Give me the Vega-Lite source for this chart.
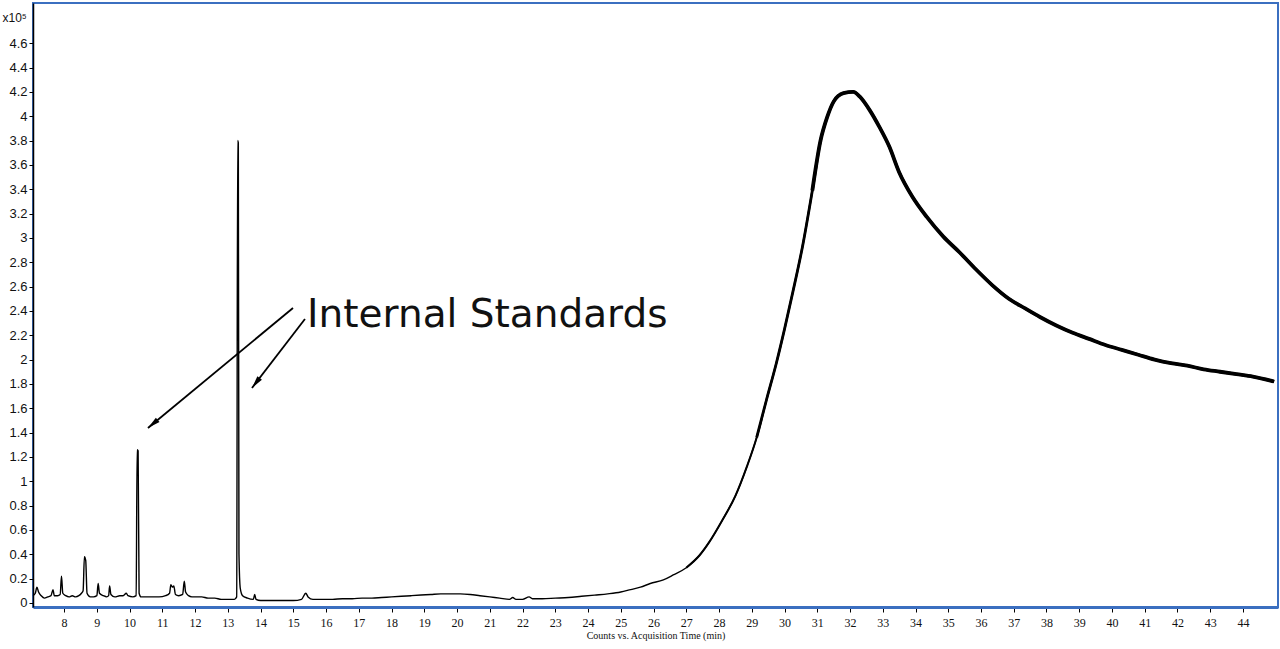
{
  "$schema": "https://vega.github.io/schema/vega-lite/v6.json",
  "width": 1245,
  "height": 604,
  "autosize": {"type": "none"},
  "padding": {"left": 33, "top": 3, "right": 2, "bottom": 42},
  "background": "white",
  "config": {
    "view": {"stroke": "#3b6fc0", "strokeWidth": 2},
    "font": "Liberation Sans",
    "axis": {"labelOverlap": false, "grid": false},
    "axisX": {"labelOverlap": false},
    "axisY": {"labelOverlap": false}
  },
  "datasets": {
    "tic": [
      {"t": 7.05, "v": 0.06}, {"t": 7.12, "v": 0.08}, {"t": 7.17, "v": 0.13}, {"t": 7.22, "v": 0.09},
      {"t": 7.3, "v": 0.06}, {"t": 7.4, "v": 0.04}, {"t": 7.5, "v": 0.05}, {"t": 7.6, "v": 0.06},
      {"t": 7.66, "v": 0.11}, {"t": 7.7, "v": 0.06}, {"t": 7.8, "v": 0.06}, {"t": 7.88, "v": 0.07},
      {"t": 7.92, "v": 0.22}, {"t": 7.96, "v": 0.08}, {"t": 8.05, "v": 0.06}, {"t": 8.15, "v": 0.05},
      {"t": 8.25, "v": 0.06}, {"t": 8.35, "v": 0.05}, {"t": 8.45, "v": 0.06}, {"t": 8.53, "v": 0.08},
      {"t": 8.58, "v": 0.1}, {"t": 8.62, "v": 0.38}, {"t": 8.66, "v": 0.35}, {"t": 8.7, "v": 0.08},
      {"t": 8.8, "v": 0.05}, {"t": 8.9, "v": 0.05}, {"t": 9.0, "v": 0.06}, {"t": 9.04, "v": 0.16},
      {"t": 9.08, "v": 0.08}, {"t": 9.2, "v": 0.06}, {"t": 9.3, "v": 0.05}, {"t": 9.36, "v": 0.06},
      {"t": 9.39, "v": 0.14}, {"t": 9.43, "v": 0.07}, {"t": 9.55, "v": 0.05}, {"t": 9.7, "v": 0.06},
      {"t": 9.8, "v": 0.06}, {"t": 9.9, "v": 0.08}, {"t": 9.95, "v": 0.06}, {"t": 10.1, "v": 0.05},
      {"t": 10.2, "v": 0.06}, {"t": 10.23, "v": 1.26}, {"t": 10.26, "v": 1.25}, {"t": 10.29, "v": 0.08},
      {"t": 10.35, "v": 0.05}, {"t": 10.5, "v": 0.05}, {"t": 10.7, "v": 0.05}, {"t": 10.9, "v": 0.05},
      {"t": 11.1, "v": 0.06}, {"t": 11.22, "v": 0.08}, {"t": 11.26, "v": 0.15}, {"t": 11.31, "v": 0.13},
      {"t": 11.35, "v": 0.14}, {"t": 11.4, "v": 0.07}, {"t": 11.5, "v": 0.06}, {"t": 11.62, "v": 0.07},
      {"t": 11.67, "v": 0.18}, {"t": 11.71, "v": 0.09}, {"t": 11.8, "v": 0.06}, {"t": 11.9, "v": 0.05},
      {"t": 12.0, "v": 0.05}, {"t": 12.2, "v": 0.05}, {"t": 12.4, "v": 0.04}, {"t": 12.6, "v": 0.04},
      {"t": 12.8, "v": 0.03}, {"t": 13.0, "v": 0.03}, {"t": 13.2, "v": 0.03}, {"t": 13.27, "v": 0.05},
      {"t": 13.3, "v": 3.8}, {"t": 13.32, "v": 3.78}, {"t": 13.34, "v": 0.4}, {"t": 13.38, "v": 0.12},
      {"t": 13.45, "v": 0.06}, {"t": 13.6, "v": 0.04}, {"t": 13.78, "v": 0.03}, {"t": 13.82, "v": 0.07},
      {"t": 13.86, "v": 0.03}, {"t": 14.0, "v": 0.02}, {"t": 14.3, "v": 0.02}, {"t": 14.6, "v": 0.02},
      {"t": 15.0, "v": 0.02}, {"t": 15.25, "v": 0.03}, {"t": 15.38, "v": 0.08}, {"t": 15.45, "v": 0.05},
      {"t": 15.6, "v": 0.03}, {"t": 15.9, "v": 0.03}, {"t": 16.2, "v": 0.03}, {"t": 16.5, "v": 0.035},
      {"t": 16.8, "v": 0.035}, {"t": 17.1, "v": 0.04}, {"t": 17.4, "v": 0.04}, {"t": 17.7, "v": 0.045},
      {"t": 18.0, "v": 0.05}, {"t": 18.3, "v": 0.055}, {"t": 18.6, "v": 0.06}, {"t": 18.9, "v": 0.065},
      {"t": 19.2, "v": 0.07}, {"t": 19.5, "v": 0.075}, {"t": 19.8, "v": 0.075}, {"t": 20.1, "v": 0.075},
      {"t": 20.4, "v": 0.07}, {"t": 20.7, "v": 0.06}, {"t": 21.0, "v": 0.05}, {"t": 21.3, "v": 0.04},
      {"t": 21.6, "v": 0.03}, {"t": 21.7, "v": 0.045}, {"t": 21.8, "v": 0.03}, {"t": 22.0, "v": 0.03},
      {"t": 22.2, "v": 0.05}, {"t": 22.3, "v": 0.035}, {"t": 22.6, "v": 0.035}, {"t": 23.0, "v": 0.04},
      {"t": 23.4, "v": 0.045}, {"t": 23.8, "v": 0.055}, {"t": 24.2, "v": 0.065}, {"t": 24.6, "v": 0.075},
      {"t": 25.0, "v": 0.09}, {"t": 25.3, "v": 0.11}, {"t": 25.6, "v": 0.13}, {"t": 25.9, "v": 0.16},
      {"t": 26.3, "v": 0.19}, {"t": 26.6, "v": 0.23}, {"t": 27.0, "v": 0.29}, {"t": 27.4, "v": 0.39},
      {"t": 27.7, "v": 0.5}, {"t": 28.1, "v": 0.68}, {"t": 28.5, "v": 0.88}, {"t": 28.85, "v": 1.12},
      {"t": 29.15, "v": 1.36}, {"t": 29.45, "v": 1.67}, {"t": 29.75, "v": 1.97}, {"t": 30.0, "v": 2.25},
      {"t": 30.25, "v": 2.55}, {"t": 30.55, "v": 2.93}, {"t": 30.85, "v": 3.39}, {"t": 31.1, "v": 3.8},
      {"t": 31.3, "v": 3.99}, {"t": 31.5, "v": 4.12}, {"t": 31.8, "v": 4.19}, {"t": 32.1, "v": 4.2},
      {"t": 32.3, "v": 4.16}, {"t": 32.6, "v": 4.05}, {"t": 32.9, "v": 3.91}, {"t": 33.2, "v": 3.75},
      {"t": 33.5, "v": 3.54}, {"t": 33.9, "v": 3.34}, {"t": 34.35, "v": 3.17}, {"t": 34.85, "v": 3.01},
      {"t": 35.35, "v": 2.88}, {"t": 35.85, "v": 2.74}, {"t": 36.35, "v": 2.61}, {"t": 36.85, "v": 2.5},
      {"t": 37.35, "v": 2.42}, {"t": 37.8, "v": 2.35}, {"t": 38.3, "v": 2.28}, {"t": 38.8, "v": 2.22},
      {"t": 39.3, "v": 2.17}, {"t": 39.8, "v": 2.12}, {"t": 40.3, "v": 2.08}, {"t": 40.8, "v": 2.04},
      {"t": 41.3, "v": 2.0}, {"t": 41.8, "v": 1.97}, {"t": 42.3, "v": 1.95}, {"t": 42.8, "v": 1.92},
      {"t": 43.3, "v": 1.9}, {"t": 43.8, "v": 1.88}, {"t": 44.3, "v": 1.86}, {"t": 44.95, "v": 1.82}
    ],
    "arrows": [
      {"id": "a", "t": 14.99, "v": 2.424, "t2": 10.56, "v2": 1.438},
      {"id": "b", "t": 15.355, "v": 2.334, "t2": 13.737, "v2": 1.767}
    ],
    "label": [
      {"t": 15.42, "v": 2.268, "text": "Internal Standards"}
    ]
  },
  "encoding": {
    "x": {
      "field": "t", "type": "quantitative",
      "scale": {"domain": [7.05, 45.07], "nice": false, "zero": false},
      "axis": {
        "values": [8,9,10,11,12,13,14,15,16,17,18,19,20,21,22,23,24,25,26,27,28,29,30,31,32,33,34,35,36,37,38,39,40,41,42,43,44],
        "labelOverlap": false,
        "grid": false,
        "domainColor": "#3b6fc0", "domainWidth": 3,
        "tickColor": "#000000", "tickSize": 5, "tickWidth": 1,
        "labelFont": "Liberation Sans Narrow", "labelFontSize": 12, "labelColor": "#111111",
        "labelPadding": 5,
        "title": "Counts vs. Acquisition Time (min)",
        "titleFont": "Liberation Sans Narrow", "titleFontSize": 10, "titleFontWeight": "normal",
        "titleColor": "#111111", "titlePadding": 2
      }
    },
    "y": {
      "field": "v", "type": "quantitative",
      "scale": {"domain": [-0.033, 4.93], "nice": false, "zero": false},
      "axis": {
        "values": [0,0.2,0.4,0.6,0.8,1,1.2,1.4,1.6,1.8,2,2.2,2.4,2.6,2.8,3,3.2,3.4,3.6,3.8,4,4.2,4.4,4.6],
        "labelOverlap": false,
        "format": ".1~f",
        "grid": false,
        "domainColor": "#000000", "domainWidth": 1.5,
        "tickColor": "#000000", "tickSize": 4,
        "labelFontSize": 13, "labelColor": "#111111", "labelPadding": 2,
        "title": "x10⁵",
        "titleAngle": 0, "titleAlign": "left", "titleBaseline": "alphabetic",
        "titleX": -31, "titleY": 18,
        "titleFontSize": 12, "titleFontWeight": "normal", "titleColor": "#111111"
      }
    }
  },
  "layer": [
    {
      "data": {"name": "tic"},
      "mark": {"type": "line", "color": "#000000", "strokeWidth": 1.4, "strokeJoin": "round", "interpolate": "monotone"}
    },
    {
      "data": {"name": "tic"},
      "transform": [{"filter": "datum.t >= 27.0"}],
      "mark": {"type": "line", "color": "#000000", "strokeWidth": 2.0, "strokeJoin": "round", "interpolate": "monotone"}
    },
    {
      "data": {"name": "tic"},
      "transform": [{"filter": "datum.t >= 29.15"}],
      "mark": {"type": "line", "color": "#000000", "strokeWidth": 2.8, "strokeJoin": "round", "interpolate": "monotone"}
    },
    {
      "data": {"name": "tic"},
      "transform": [{"filter": "datum.t >= 30.85"}],
      "mark": {"type": "line", "color": "#000000", "strokeWidth": 3.8, "strokeJoin": "round", "interpolate": "monotone"}
    },
    {
      "data": {"name": "arrows"},
      "mark": {"type": "rule", "color": "#000000", "strokeWidth": 1.8},
      "encoding": {
        "x2": {"field": "t2"},
        "y2": {"field": "v2"}
      }
    },
    {
      "data": {"name": "arrows"},
      "transform": [{"filter": "datum.id === 'a'"}],
      "mark": {"type": "point", "shape": "M0,0L-0.45,2L0.45,2Z", "filled": true, "color": "#000000", "opacity": 1, "size": 160, "angle": 230.4},
      "encoding": {
        "x": {"field": "t2", "type": "quantitative"},
        "y": {"field": "v2", "type": "quantitative"}
      }
    },
    {
      "data": {"name": "arrows"},
      "transform": [{"filter": "datum.id === 'b'"}],
      "mark": {"type": "point", "shape": "M0,0L-0.45,2L0.45,2Z", "filled": true, "color": "#000000", "opacity": 1, "size": 160, "angle": 217.5},
      "encoding": {
        "x": {"field": "t2", "type": "quantitative"},
        "y": {"field": "v2", "type": "quantitative"}
      }
    },
    {
      "data": {"name": "label"},
      "mark": {"type": "text", "font": "DejaVu Sans", "fontSize": 39, "align": "left", "baseline": "alphabetic", "color": "#111111"},
      "encoding": {
        "text": {"field": "text"}
      }
    }
  ]
}
